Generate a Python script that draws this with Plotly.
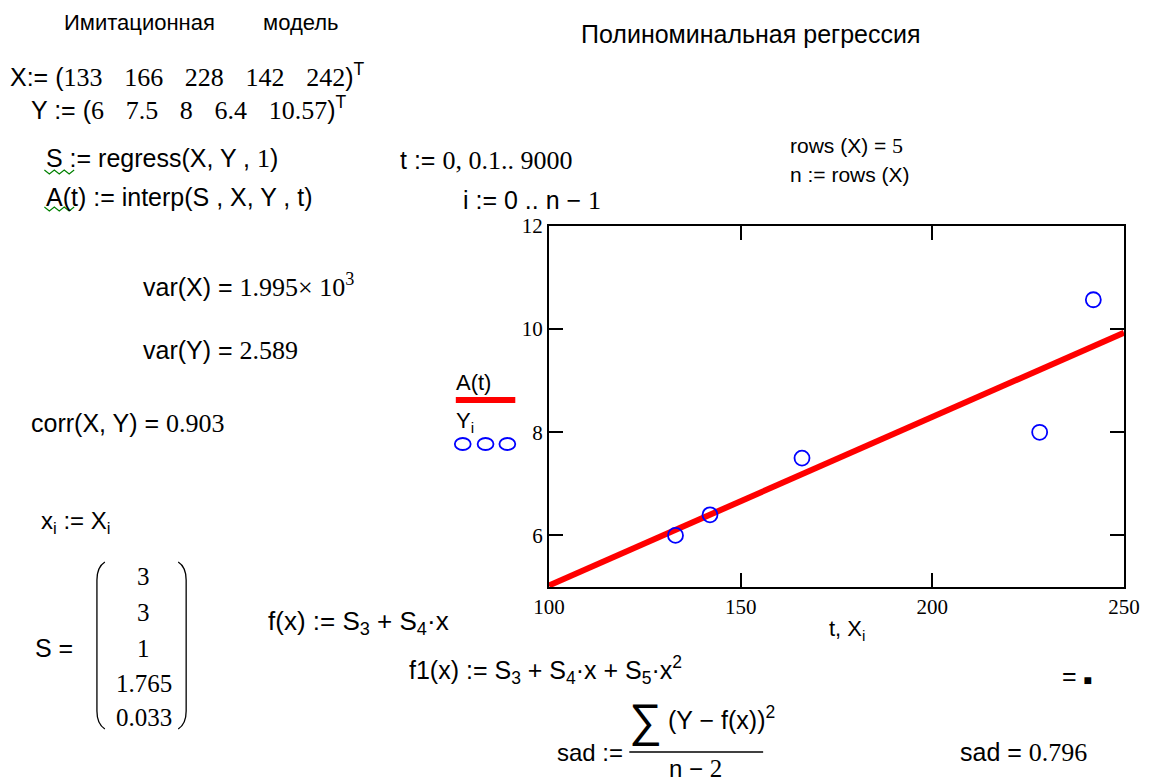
import plotly.graph_objects as go

# ---- data read from the worksheet ----
X = [133, 166, 228, 142, 242]
Y = [6, 7.5, 8, 6.4, 10.57]
A_t = [100, 250]          # regression line A(t) over the plotted range
A_vals = [5.03, 9.93]
S_vals = ["3", "3", "1", "1.765", "0.033"]
x_ticks = [100, 150, 200, 250]
y_ticks = [6, 8, 10, 12]

# page offset (default 8px body margin)
OFF = 8
W, H = 1152 - OFF, 783 - OFF
# plot frame in page pixels
L, R, T, B = 549, 1129, 226, 587
SANS = "Liberation Sans"
SERIF = "Liberation Serif"


def px(x):
    return (x - L) / (R - L)


def py(y):
    return (B - y) / (B - T)


def num(s, size=None):
    st = f"font-family:{SERIF}"
    if size:
        st += f";font-size:{size}px"
    return f'<span style="{st}">{s}</span>'


anns = []


def ann(text, x, y, size=25, anchor="left", family=SANS):
    anns.append(dict(text=text, x=px(x), y=py(y), xref="paper", yref="paper",
                     xanchor=anchor, yanchor="middle", showarrow=False,
                     font=dict(family=family, size=size, color="black")))


gap = "\u2002\u2004"
ann("Имитационная", 58, 22, size=22)
ann("модель", 258, 22, size=22)
ann("Полиноминальная регрессия", 753, 34, size=25, anchor="center")
ann("X:= (" + num(gap.join(["133", "166", "228", "142", "242"]), 26) + ")<sup>T</sup>", 3, 75, size=25)
ann("Y := (" + num(gap.join(["6", "7.5", "8", "6.4", "10.57"]), 26) + ")<sup>T</sup>", 24, 108, size=25)
ann("S := regress(X, Y , " + num("1", 26) + ")", 40, 158, size=25)
ann("A(t) := interp(S , X, Y , t)", 40, 197, size=25)
ann("t := " + num("0, 0.1.. 9000", 26), 397, 160, size=25)
ann("i := 0 .. n − " + num("1", 26), 460, 200, size=25)
ann("rows (X) = " + num("5", 22), 790, 146, size=21)
ann("n := rows (X)", 790, 174, size=21)
ann("var(X) = " + num("1.995× 10<sup>3</sup>", 26), 137, 285, size=25)
ann("var(Y) = " + num("2.589", 26), 137, 350, size=25)
ann("corr(X, Y) = " + num("0.903", 26), 24, 423, size=25)
ann("x<sub>i</sub> := X<sub>i</sub>", 35, 522, size=24)
ann("S =", 29, 648, size=25)
for v, yy in zip(S_vals, [576, 612, 648, 683, 717]):
    ann(v, 140, yy, size=25, anchor="center", family=SERIF)
ann("f(x) := S<sub>3</sub> + S<sub>4</sub>·x", 264, 622, size=26)
ann("f1(x) := S<sub>3</sub> + S<sub>4</sub>·x + S<sub>5</sub>·x<sup>2</sup>", 406, 670, size=25)
ann('= <span style="font-size:14px">■</span>', 1064, 676, size=25)
ann("∑", 628, 720, size=46, family=SANS)
ann("(Y − f(x))<sup>2</sup>", 667, 718, size=25)
ann("sad :=", 555, 752, size=24)
ann("n − " + num("2", 25), 697, 768, size=24, anchor="center")
ann("sad = " + num("0.796", 26), 962, 752, size=25)
ann("t, X<sub>i</sub>", 850, 630, size=22, anchor="center")
ann("A(t)", 453, 382, size=22)
ann("Y<sub>i</sub>", 453, 422, size=22)

shapes = []


def line(x0, y0, x1, y1, color="black", width=1.5):
    shapes.append(dict(type="line", xref="paper", yref="paper",
                       x0=px(x0), y0=py(y0), x1=px(x1), y1=py(y1),
                       line=dict(color=color, width=width)))


def path(pts, color="black", width=1.5):
    d = ""
    for cmd, coords in pts:
        d += cmd + " ".join(f"{px(a):.5f},{py(b):.5f}" for a, b in coords) + " "
    shapes.append(dict(type="path", xref="paper", yref="paper", path=d.strip(),
                       line=dict(color=color, width=width)))


# legend samples
line(455, 400, 515, 400, color="red", width=6)
for cx in [462, 485, 507]:
    shapes.append(dict(type="circle", xref="paper", yref="paper",
                       x0=px(cx - 8), x1=px(cx + 8), y0=py(444 - 6), y1=py(444 + 6),
                       line=dict(color="blue", width=1.8)))

# green squiggles (spell-check marks)
for y0 in [170, 207]:
    pts = [(40 + 5 * k, y0 + (4 if k % 2 else 0)) for k in range(7)]
    path([("M", [pts[0]])] + [("L", [p]) for p in pts[1:]], color="green", width=1.2)

# matrix brackets
path([("M", [(101, 562)]), ("Q", [(93, 567), (93, 580)]), ("L", [(93, 711)]),
      ("Q", [(93, 724), (101, 729)])], width=1.3)
path([("M", [(175, 562)]), ("Q", [(183, 567), (183, 580)]), ("L", [(183, 711)]),
      ("Q", [(183, 724), (175, 729)])], width=1.3)

# fraction bar
line(630, 752, 765, 752, width=1.5)

fig = go.Figure()
fig.add_trace(go.Scatter(x=A_t, y=A_vals, mode="lines",
                         line=dict(color="red", width=6), name="A(t)"))
fig.add_trace(go.Scatter(x=X, y=Y, mode="markers", name="Yi",
                         marker=dict(symbol="circle-open", size=15,
                                     color="blue", line=dict(width=1.8, color="blue"))))

axis_common = dict(showline=True, linecolor="black", linewidth=2, mirror="ticks",
                   ticks="inside", ticklen=14, tickwidth=2, tickcolor="black",
                   showgrid=False, zeroline=False,
                   tickfont=dict(family=SERIF, size=21, color="black"))
fig.update_xaxes(range=[100, 250], tickvals=x_ticks, **axis_common)
fig.update_yaxes(range=[5, 12], tickvals=y_ticks, **axis_common)

fig.update_layout(width=W, height=H, paper_bgcolor="white", plot_bgcolor="white",
                  margin=dict(l=L - OFF, r=W - (R - OFF), t=T - OFF, b=H - (B - OFF)),
                  showlegend=False, annotations=anns, shapes=shapes)

fig.write_html("out.html")
